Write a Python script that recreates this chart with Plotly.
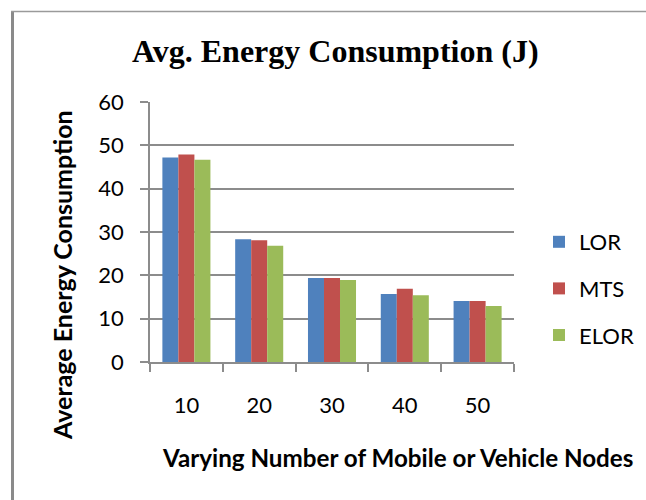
import plotly.graph_objects as go

# Number of mobile / vehicle nodes
nodes = ["10", "20", "30", "40", "50"]

# Average energy consumption (J) per protocol
lor = [47.2, 28.3, 19.4, 15.7, 14.1]
mts = [47.9, 28.1, 19.4, 16.9, 14.1]
elor = [46.7, 26.8, 18.9, 15.4, 12.9]

series_names = ["LOR", "MTS", "ELOR"]
series_colors = ["#4F81BD", "#C0504D", "#9BBB59"]

W, H = 646, 500
L, R, T, B = 150, 132, 102, 138
PW, PH = W - L - R, H - T - B


def px_x(p):
    return (p - L) / PW


def px_y(p):
    return (H - B - p) / PH


GRID = "#8c8c8c"
TICK_FONT = dict(family="Lato", size=22, color="#000000")

fig = go.Figure()
for i, (name, vals, col) in enumerate(zip(series_names, [lor, mts, elor], series_colors)):
    fig.add_trace(go.Bar(
        x=nodes, y=vals, name=name, legendgroup=name,
        marker=dict(color=col, line=dict(width=0)),
    ))

fig.update_layout(
    width=W, height=H,
    margin=dict(l=L, r=R, t=T, b=B, autoexpand=False),
    paper_bgcolor="white", plot_bgcolor="white",
    barmode="group", bargap=0.34, bargroupgap=0,
    showlegend=True,
    legend=dict(
        x=px_x(539), y=px_y(221), xanchor="left", yanchor="top",
        font=dict(family="Lato", size=22, color="#000000"),
        traceorder="grouped", tracegroupgap=15,
        bgcolor="rgba(0,0,0,0)", itemwidth=30,
    ),
    xaxis=dict(
        type="category", tickson="boundaries",
        showline=True, linecolor=GRID, linewidth=1.5,
        ticks="outside", ticklen=8, tickcolor=GRID, tickwidth=1.5,
        showgrid=False, tickfont=TICK_FONT, ticklabelstandoff=23,
    ),
    yaxis=dict(
        range=[0, 60], dtick=10,
        showline=True, linecolor=GRID, linewidth=1.5,
        ticks="outside", ticklen=8, tickcolor=GRID, tickwidth=1.5,
        showgrid=True, gridcolor=GRID, gridwidth=1.5,
        zeroline=False, tickfont=TICK_FONT, ticklabelstandoff=12,
    ),
    shapes=[
        dict(type="line", xref="paper", yref="paper",
             x0=px_x(12.5), x1=px_x(12.5), y0=px_y(11), y1=px_y(520),
             line=dict(color="#8a8a8a", width=3)),
        dict(type="line", xref="paper", yref="paper",
             x0=px_x(11), x1=px_x(680), y0=px_y(11.5), y1=px_y(11.5),
             line=dict(color="#9a9a9a", width=1.5)),
    ],
    annotations=[
        dict(text="<b>Avg. Energy Consumption (J)</b>", xref="paper", yref="paper",
             x=px_x(335.7), y=px_y(51), xanchor="center", yanchor="middle",
             showarrow=False, font=dict(family="Liberation Serif", size=32, color="#000000")),
        dict(text="<b>Varying Number of Mobile or Vehicle Nodes</b>", xref="paper", yref="paper",
             x=px_x(397), y=px_y(457), xanchor="center", yanchor="middle",
             showarrow=False, font=dict(family="Lato", size=24.2, color="#000000")),
        dict(text="<b>Average Energy Consumption</b>", xref="paper", yref="paper",
             x=px_x(62), y=px_y(275), xanchor="center", yanchor="middle", textangle=-90,
             showarrow=False, font=dict(family="Lato", size=25, color="#000000")),
    ],
)

fig.write_html("out.html")
